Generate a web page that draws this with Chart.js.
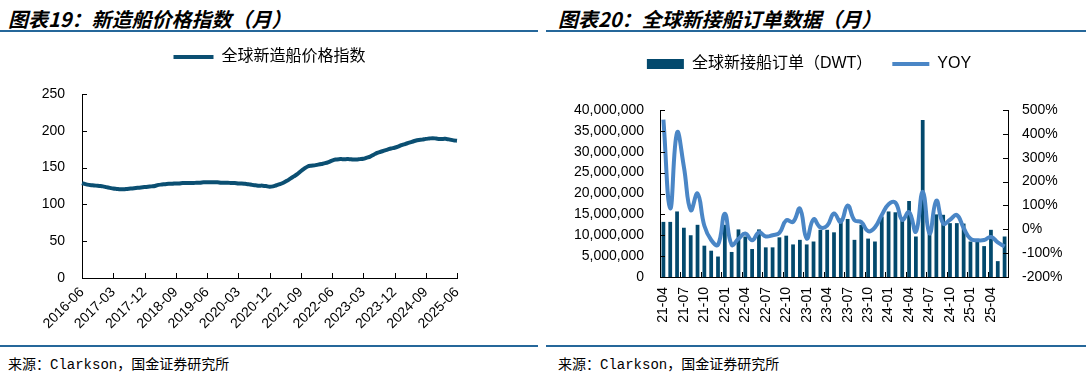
<!DOCTYPE html>
<html>
<head>
<meta charset="utf-8">
<script src="https://cdn.jsdelivr.net/npm/chart.js@4.4.1/dist/chart.umd.min.js"></script>
<style>
  body { margin: 0; width: 1086px; height: 376px; background: #fff; position: relative; overflow: hidden; }
  .title { position: absolute; top: 4px; line-height: 26px; font: italic bold 20px "Noto Sans CJK SC", sans-serif; color: #000; white-space: nowrap; }
  .rule { position: absolute; height: 2px; background: #25679a; }
  .src { position: absolute; top: 353px; line-height: 18px; font: 14px "Liberation Mono", "Noto Sans CJK SC", monospace; color: #000; white-space: nowrap; }
  canvas { position: absolute; }
</style>
</head>
<body>
<div class="title" style="left:8px">图表19：新造船价格指数（月）</div>
<div class="title" style="left:558px">图表20：全球新接船订单数据（月）</div>
<div class="rule" style="left:0; width:538px; top:30px"></div>
<div class="rule" style="left:546px; width:540px; top:30px"></div>
<div class="rule" style="left:0; width:538px; top:345px"></div>
<div class="rule" style="left:546px; width:540px; top:345px"></div>
<div class="src" style="left:8px">来源：Clarkson，国金证券研究所</div>
<div class="src" style="left:558px">来源：Clarkson，国金证券研究所</div>

<canvas id="c1" width="540" height="304" style="left:0; top:36px"></canvas>
<canvas id="c2" width="554" height="304" style="left:532px; top:36px"></canvas>

<script>
// ---- data ----
// 新造船价格指数, monthly 2016-06 .. 2025-06
const priceIndex = [
  129, 127.5, 126.5, 126, 125.5, 125, 124.5, 123.5, 122.5, 121.5,
  121, 120.5, 120.5, 121, 121.5, 122, 122.5, 123, 123.5, 124,
  124.5, 125, 126.5, 127, 127.5, 128, 128, 128.5, 128.5, 129,
  129, 129, 129, 129.5, 129.5, 130, 130, 130, 130, 130,
  129.5, 129.5, 129.5, 129, 129, 128.5, 128.5, 128, 127.5, 126.5,
  126, 125.5, 125.5, 125, 124, 124.5, 126, 127.5, 129.5, 132,
  135, 138, 141, 145, 148.5, 151.5, 152.5, 153, 154, 155,
  156, 157.5, 159.5, 161, 161.5, 161.5, 161.5, 161.5, 161, 161,
  161.5, 162, 163.5, 165, 167.5, 170, 171.5, 173, 174.5, 176,
  177, 178.5, 180.5, 182, 183.5, 185, 186.5, 187.5, 188, 189,
  189.5, 190, 189.5, 189, 189, 189, 188, 187, 186.5
];

// 全球新接船订单 (DWT), monthly 2021-04 .. 2025-06
const orderDwt = [
  13200000, 13200000, 15700000, 11800000, 10000000, 12500000, 7500000, 6300000, 4900000, 12500000,
  6000000, 11400000, 9700000, 6700000, 11400000, 7100000, 7100000, 9500000, 9900000, 7800000,
  8900000, 7800000, 8500000, 11300000, 11300000, 10700000, 14000000, 13900000, 8900000, 12500000,
  9200000, 8500000, 14500000, 15700000, 15500000, 13900000, 18200000, 9700000, 37600000, 12000000,
  15000000, 14900000, 12900000, 12900000, 12800000, 8500000, 8500000, 7400000, 11300000, 3800000,
  9700000
];
// YOY, %
const orderYoy = [
  460, 88, 405, 262, 80, 150, 15, -45, -65, 65,
  -65, -40, -18, -46, -13, -30, -25, -15, 38, 31,
  87, -39, 42, 8, 15, 66, 31, 100, 38, 30,
  -8, 8, 60, 105, 112, 40, 72, -10, 157, -18,
  120, 24, 40, 60, 5, -40, -46, -45, -32, -55,
  -72
];

const priceTicks = [0, 50, 100, 150, 200, 250];
const NAVY = '#0b4f72';
const BAR = '#03496d';
const YOY_BLUE = '#4a86c6';

function monthLabels(year, month, n, shortYear) {
  const out = [];
  for (let i = 0; i < n; i++) {
    const y = year + Math.floor((month - 1 + i) / 12);
    const m = (month - 1 + i) % 12 + 1;
    out.push((shortYear ? String(y).slice(2) : y) + '-' + String(m).padStart(2, '0'));
  }
  return out;
}
const priceMonths = monthLabels(2016, 6, priceIndex.length, false);
const orderMonths = monthLabels(2021, 4, orderDwt.length, true);

// ---- small plugins ----
// extra room between legend and plot
const legendGap = {
  id: 'legendGap',
  afterInit(chart, args, opts) {
    const gap = opts.gap || 0;
    const fit = chart.legend.fit;
    chart.legend.fit = function () { fit.call(this); this.height += gap; };
  }
};

// tick marks pointing into the plot, like the original
const innerTicks = {
  id: 'innerTicks',
  afterDatasetsDraw(chart, args, opts) {
    const ctx = chart.ctx, a = chart.chartArea, len = opts.length || 5;
    ctx.save();
    ctx.strokeStyle = '#000';
    ctx.lineWidth = 1;
    ctx.beginPath();
    Object.values(chart.scales).forEach(s => {
      s.ticks.forEach((t, i) => {
        if (t.label === '' || t.label == null) return;
        let p = s.getPixelForTick(i);
        if (s.isHorizontal()) {
          if (opts.between) p -= (s.getPixelForTick(1) - s.getPixelForTick(0)) / 2;
          p = Math.round(p) + 0.5;
          ctx.moveTo(p, a.bottom);
          ctx.lineTo(p, a.bottom - len);
        } else {
          p = Math.round(p) + 0.5;
          const right = s.position === 'right';
          const x = right ? a.right : a.left;
          ctx.moveTo(x, p);
          ctx.lineTo(x + (right ? -len : len), p);
        }
      });
    });
    ctx.stroke();
    ctx.restore();
  }
};

const tickFont = size => ({ family: '"Liberation Sans", Arial, sans-serif', size: size });
const legendFont = { family: '"Liberation Sans", "Noto Sans CJK SC", sans-serif', size: 16 };

// ---- 图表19 ----
new Chart(document.getElementById('c1'), {
  type: 'line',
  data: {
    labels: priceMonths,
    datasets: [{
      label: '全球新造船价格指数',
      data: priceIndex,
      borderColor: NAVY,
      backgroundColor: NAVY,
      borderWidth: 4,
      pointRadius: 0,
      tension: 0.3
    }]
  },
  options: {
    responsive: false,
    animation: false,
    layout: { padding: { top: 4, right: 83, left: 0, bottom: 0 } },
    plugins: {
      tooltip: { enabled: false },
      legend: {
        fullSize: false,
        labels: {
          usePointStyle: true,
          pointStyleWidth: 40,
          boxHeight: 10,
          padding: 9,
          color: '#000',
          font: legendFont,
          generateLabels: chart => chart.data.datasets.map((ds, i) => ({
            text: ds.label, fillStyle: ds.borderColor, strokeStyle: ds.borderColor,
            lineWidth: 4, pointStyle: 'line', datasetIndex: i, hidden: false, fontColor: '#000'
          }))
        }
      },
      legendGap: { gap: 19 },
      innerTicks: { length: 5 }
    },
    scales: {
      x: {
        offset: false,
        grid: { display: false, drawTicks: false },
        border: { display: true, color: '#000' },
        ticks: {
          autoSkip: false, minRotation: 45, maxRotation: 45, padding: 6,
          color: '#000', font: tickFont(14),
          callback: function (v, i) { return i % 9 === 0 ? this.getLabelForValue(v) : ''; }
        },
        afterFit: s => { s.height = 62; }
      },
      y: {
        min: priceTicks[0], max: priceTicks[priceTicks.length - 1],
        grid: { display: false, drawTicks: false },
        border: { display: true, color: '#000' },
        ticks: { stepSize: 50, padding: 17, color: '#000', font: tickFont(14) },
        afterFit: s => { s.width = 82; }
      }
    }
  },
  plugins: [legendGap, innerTicks]
});

// ---- 图表20 ----
new Chart(document.getElementById('c2'), {
  type: 'bar',
  data: {
    labels: orderMonths,
    datasets: [{
      label: '全球新接船订单（DWT）',
      data: orderDwt,
      backgroundColor: BAR,
      borderColor: BAR,
      yAxisID: 'y',
      barPercentage: 0.55,
      categoryPercentage: 1,
      order: 1
    }, {
      type: 'line',
      label: 'YOY',
      data: orderYoy,
      borderColor: YOY_BLUE,
      backgroundColor: YOY_BLUE,
      borderWidth: 4,
      pointRadius: 0,
      tension: 0.45,
      yAxisID: 'y1',
      order: 0
    }]
  },
  options: {
    responsive: false,
    animation: false,
    layout: { padding: 0 },
    plugins: {
      tooltip: { enabled: false },
      legend: {
        labels: {
          usePointStyle: true,
          pointStyleWidth: 37,
          boxHeight: 10,
          padding: 20,
          color: '#000',
          font: legendFont,
          generateLabels: chart => chart.data.datasets.map((ds, i) => ({
            text: ds.label, fillStyle: ds.backgroundColor, strokeStyle: ds.borderColor,
            lineWidth: ds.type === 'line' ? 4 : 0,
            pointStyle: ds.type === 'line' ? 'line' : 'rect',
            datasetIndex: i, hidden: false, fontColor: '#000'
          }))
        }
      },
      legendGap: { gap: 28 },
      innerTicks: { length: 5, between: true }
    },
    scales: {
      x: {
        offset: true,
        grid: { display: false, drawTicks: false, offset: true },
        border: { display: true, color: '#000' },
        ticks: {
          autoSkip: false, minRotation: 90, maxRotation: 90, padding: 10,
          color: '#000', font: tickFont(14),
          callback: function (v, i) { return i % 3 === 0 ? this.getLabelForValue(v) : ''; }
        },
        afterFit: s => { s.height = 63; }
      },
      y: {
        position: 'left',
        min: 0, max: 40000000,
        grid: { display: false, drawTicks: false },
        border: { display: true, color: '#000' },
        ticks: {
          stepSize: 5000000, padding: 16, color: '#000', font: tickFont(14),
          callback: v => v.toLocaleString('en-US')
        },
        afterFit: s => { s.width = 128; }
      },
      y1: {
        position: 'right',
        min: -200, max: 500,
        grid: { display: false, drawTicks: false },
        border: { display: true, color: '#000' },
        ticks: {
          stepSize: 100, padding: 14, color: '#000', font: tickFont(14),
          callback: v => v + '%'
        },
        afterFit: s => { s.width = 78; }
      }
    }
  },
  plugins: [legendGap, innerTicks]
});
</script>
</body>
</html>
